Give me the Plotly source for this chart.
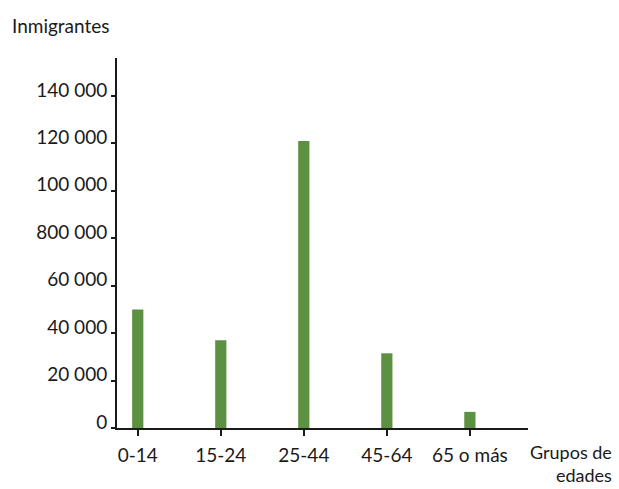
import plotly.graph_objects as go

categories = ["0-14", "15-24", "25-44", "45-64", "65 o más"]
values = [50000, 37000, 121000, 31500, 6800]
ytick_vals = [0, 20000, 40000, 60000, 80000, 100000, 120000, 140000]
ytick_text = ["0", "20 000", "40 000", "60 000", "800 000", "100 000", "120 000", "140 000"]

FONT = "Lato"
FS = 19
INK = "#1a1a1a"

fig = go.Figure()
fig.add_trace(go.Bar(
    x=list(range(len(categories))), y=values,
    width=0.135, marker=dict(color="#5b9140", line=dict(width=0)),
    hoverinfo="skip",
))

fig.update_layout(
    width=619, height=489,
    margin=dict(l=117, r=91, t=58, b=61),
    paper_bgcolor="white", plot_bgcolor="white",
    showlegend=False,
    font=dict(family=FONT, size=FS, color=INK),
    xaxis=dict(
        range=[-0.25, 4.7], tickmode="array",
        tickvals=list(range(len(categories))), ticktext=categories,
        showline=True, linecolor=INK, linewidth=2,
        ticks="outside", ticklen=6, tickwidth=2, tickcolor=INK,
        ticklabelstandoff=3,
        showgrid=False, zeroline=False, fixedrange=True,
        tickfont=dict(family=FONT, size=FS, color=INK),
    ),
    yaxis=dict(
        range=[0, 156000], tickmode="array",
        tickvals=ytick_vals, ticktext=ytick_text,
        showline=True, linecolor=INK, linewidth=2,
        ticks="outside", ticklen=4, tickwidth=2, tickcolor=INK,
        ticklabelstandoff=0, ticklabelshift=-6,
        showgrid=False, zeroline=False, fixedrange=True,
        tickfont=dict(family=FONT, size=FS, color=INK),
    ),
    annotations=[
        dict(text="Inmigrantes", xref="paper", yref="paper",
             x=(10 - 117) / 411, y=(428 - 25) / 370, xanchor="left", yanchor="middle",
             showarrow=False, font=dict(family=FONT, size=FS, color=INK)),
        dict(text="Grupos de<br>edades", xref="paper", yref="paper",
             x=(614 - 117) / 411, y=(428 - 439) / 370, xanchor="right", yanchor="top",
             align="right", showarrow=False,
             font=dict(family=FONT, size=FS - 1, color=INK)),
    ],
)

fig.write_html(
    "out.html",
    config={"displayModeBar": False},
    post_script="document.body.style.margin='0';document.body.style.overflow='hidden';",
)
